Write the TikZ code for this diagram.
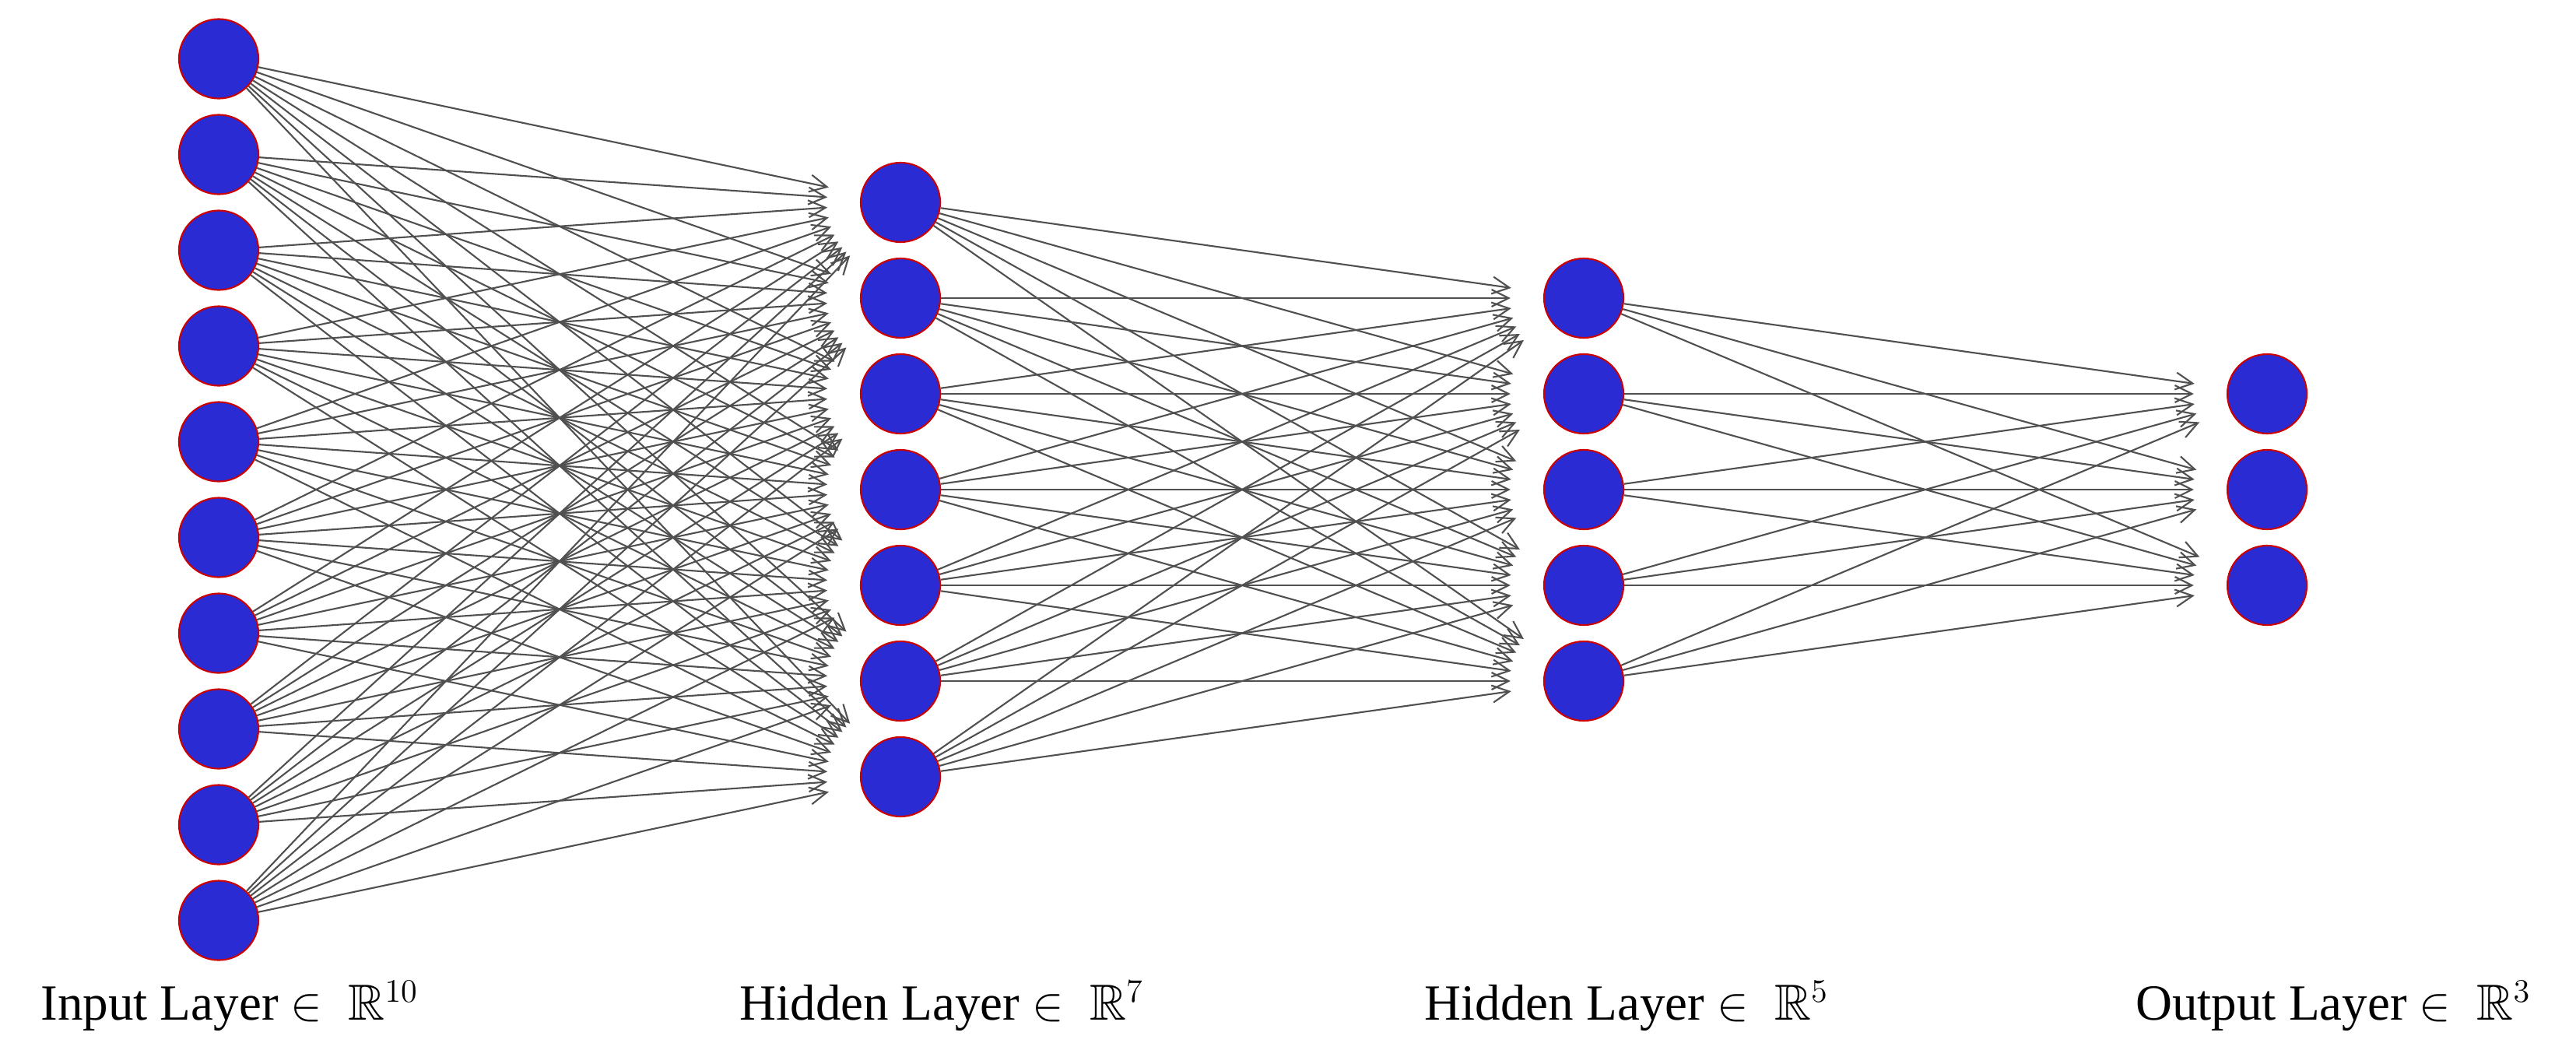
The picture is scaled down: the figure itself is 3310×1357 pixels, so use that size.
\documentclass[tikz,border=0pt]{standalone}
\usepackage{amssymb}
\usepackage{fontspec}
\setmainfont{Liberation Serif}
\usetikzlibrary{arrows.meta}
\definecolor{nodeblue}{RGB}{43,43,212}
\definecolor{edgegray}{RGB}{80,80,80}
\begin{document}
\begin{tikzpicture}[x=0.01cm,y=-0.01cm,
  neuron/.style={circle,fill=nodeblue,draw=red!80!black,line width=0.6pt,minimum size=1.02cm,inner sep=0pt},
  conn/.style={draw=edgegray,line width=0.6pt,-{Straight Barb[length=0.22cm,width=0.22cm]},shorten >=0.42cm},
  lab/.style={font=\fontsize{18.5}{22}\selectfont,anchor=base}]
\useasboundingbox (0,0) rectangle (3310,1357);
\foreach \i in {1,...,10}{\node[neuron] (I\i) at (281,{629+(\i-5.5)*123}) {};}
\foreach \i in {1,...,7}{\node[neuron] (A\i) at (1157,{629+(\i-4)*123}) {};}
\foreach \i in {1,...,5}{\node[neuron] (B\i) at (2035,{629+(\i-3)*123}) {};}
\foreach \i in {1,...,3}{\node[neuron] (O\i) at (2913,{629+(\i-2)*123}) {};}
\foreach \i in {1,...,10}{\foreach \j in {1,...,7}{\draw[conn] (I\i) -- (A\j);}}
\foreach \i in {1,...,7}{\foreach \j in {1,...,5}{\draw[conn] (A\i) -- (B\j);}}
\foreach \i in {1,...,5}{\foreach \j in {1,...,3}{\draw[conn] (B\i) -- (O\j);}}
\node[lab] (L1) at (295,1310) {Input Layer $\in\ \mathbb{R}^{10}$};
\node[lab] (L2) at (1210,1310) {Hidden Layer $\in\ \mathbb{R}^{7}$};
\node[lab] (L3) at (2090,1310) {Hidden Layer $\in\ \mathbb{R}^{5}$};
\node[lab] (L4) at (2998,1310) {Output Layer $\in\ \mathbb{R}^{3}$};
\end{tikzpicture}
\end{document}
